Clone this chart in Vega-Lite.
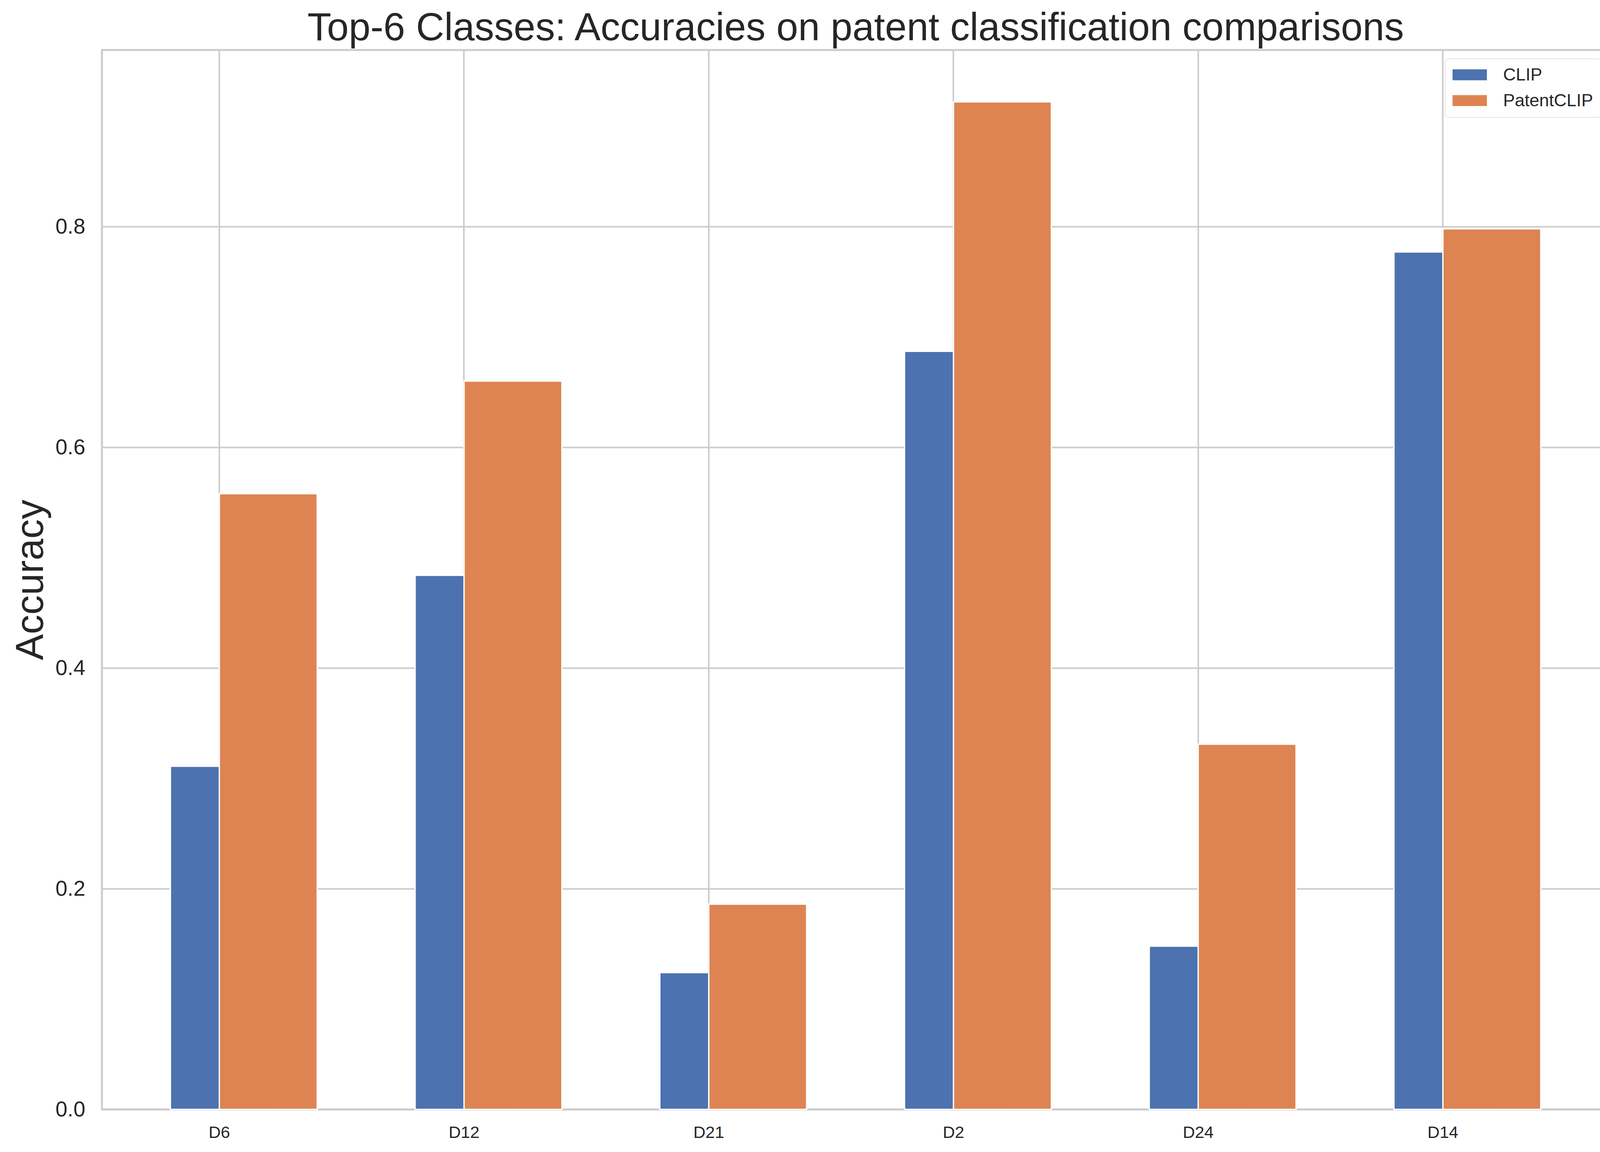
{
  "$schema": "https://vega.github.io/schema/vega-lite/v6.json",
  "autosize": {"type": "none"},
  "padding": {"left": 261, "top": 128, "right": 29, "bottom": 109},
  "width": 3859,
  "height": 2712,
  "background": "white",
  "title": {
    "text": "Top-6 Classes: Accuracies on patent classification comparisons",
    "fontSize": 100,
    "fontWeight": "normal",
    "color": "#262626",
    "anchor": "middle",
    "baseline": "alphabetic",
    "offset": -75
  },
  "data": {
    "values": [
      {"cls": "D6", "model": "CLIP", "accuracy": 0.311},
      {"cls": "D6", "model": "PatentCLIP", "accuracy": 0.558},
      {"cls": "D12", "model": "CLIP", "accuracy": 0.484},
      {"cls": "D12", "model": "PatentCLIP", "accuracy": 0.660},
      {"cls": "D21", "model": "CLIP", "accuracy": 0.124},
      {"cls": "D21", "model": "PatentCLIP", "accuracy": 0.186},
      {"cls": "D2", "model": "CLIP", "accuracy": 0.687},
      {"cls": "D2", "model": "PatentCLIP", "accuracy": 0.913},
      {"cls": "D24", "model": "CLIP", "accuracy": 0.148},
      {"cls": "D24", "model": "PatentCLIP", "accuracy": 0.331},
      {"cls": "D14", "model": "CLIP", "accuracy": 0.777},
      {"cls": "D14", "model": "PatentCLIP", "accuracy": 0.798}
    ]
  },
  "encoding": {
    "x": {
      "field": "cls",
      "type": "nominal",
      "sort": ["D6", "D12", "D21", "D2", "D24", "D14"],
      "scale": {"paddingInner": 0.5, "paddingOuter": 0.33, "align": 0.348},
      "axis": {
        "title": null,
        "labelAngle": 0,
        "labelFontSize": 43,
        "labelColor": "#262626",
        "labelPadding": 38,
        "ticks": false,
        "domain": false,
        "grid": true,
        "gridColor": "#cccccc",
        "gridWidth": 4
      }
    },
    "y": {
      "field": "accuracy",
      "type": "quantitative",
      "scale": {"domain": [0, 0.96], "nice": false, "zero": true},
      "axis": {
        "title": "Accuracy",
        "titleFontSize": 100,
        "titleFontWeight": "normal",
        "titleColor": "#262626",
        "titlePadding": 11,
        "values": [0, 0.2, 0.4, 0.6, 0.8],
        "format": ".1f",
        "labelFontSize": 55,
        "labelColor": "#262626",
        "labelPadding": 43,
        "ticks": false,
        "domain": false,
        "grid": true,
        "gridColor": "#cccccc",
        "gridWidth": 4
      }
    },
    "color": {
      "field": "model",
      "type": "nominal",
      "scale": {"domain": ["CLIP", "PatentCLIP"], "range": ["#4c72b0", "#dd8452"]},
      "legend": {
        "title": null,
        "orient": "top-right",
        "offset": 22,
        "labelFontSize": 45,
        "labelColor": "#262626",
        "labelLimit": 0,
        "symbolType": "M-1,-0.636H3V0.636H-1Z",
        "symbolSize": 1936,
        "symbolStrokeWidth": 0,
        "labelOffset": 85,
        "padding": 19,
        "rowPadding": 20,
        "strokeColor": "#cccccc",
        "fillColor": "rgba(255,255,255,0.8)",
        "cornerRadius": 9,
        "encode": {"legend": {"update": {"strokeWidth": {"value": 4}}}}
      }
    }
  },
  "layer": [
    {
      "transform": [{"filter": "datum.model === 'CLIP'"}],
      "mark": {"type": "bar", "width": 250.6, "stroke": "white", "strokeWidth": 3.5}
    },
    {
      "transform": [{"filter": "datum.model === 'PatentCLIP'"}],
      "mark": {"type": "bar", "width": 250.6, "xOffset": 125.3, "stroke": "white", "strokeWidth": 3.5}
    }
  ],
  "config": {
    "font": "Liberation Sans",
    "view": {"stroke": "#cccccc", "strokeWidth": 5}
  }
}
